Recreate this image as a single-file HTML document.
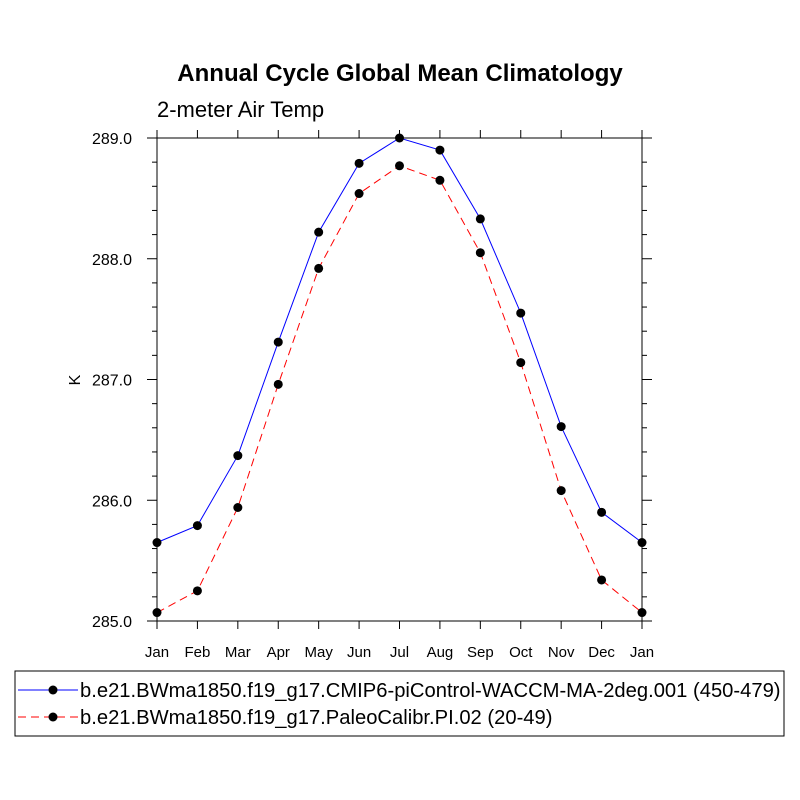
<!DOCTYPE html>
<html><head><meta charset="utf-8"><style>body{margin:0;background:#fff}svg{display:block}text{font-family:"Liberation Sans",sans-serif}</style></head>
<body>
<svg id="c" width="800" height="800" viewBox="0 0 800 800">
<text x="400" y="81" text-anchor="middle" font-size="24" font-weight="bold">Annual Cycle Global Mean Climatology</text>
<text x="157" y="117" font-size="22">2-meter Air Temp</text>
<text transform="translate(80,380) rotate(-90)" text-anchor="middle" font-size="16">K</text>
<g id="axes"></g><g id="series"></g>
<rect x="15" y="671" width="769" height="65" fill="none" stroke="#000" stroke-width="1"/>
<g>
<line x1="18" y1="690" x2="78" y2="690" stroke="#00f" stroke-width="1"/><circle cx="53" cy="690" r="4.5" fill="#000"/>
<text x="80" y="697" font-size="20.2">b.e21.BWma1850.f19_g17.CMIP6-piControl-WACCM-MA-2deg.001 (450-479)</text></g>
<g>
<line x1="18" y1="717" x2="78" y2="717" stroke="#f00" stroke-width="1" stroke-dasharray="8,5"/><circle cx="53" cy="717" r="4.5" fill="#000"/>
<text x="80" y="724" font-size="20.2">b.e21.BWma1850.f19_g17.PaleoCalibr.PI.02 (20-49)</text></g>
</svg>
<script>
const months=["Jan","Feb","Mar","Apr","May","Jun","Jul","Aug","Sep","Oct","Nov","Dec","Jan"];
const blueVals=[285.65,285.79,286.37,287.31,288.22,288.79,289.0,288.90,288.33,287.55,286.61,285.90,285.65];
const redVals=[285.07,285.25,285.94,286.96,287.92,288.54,288.77,288.65,288.05,287.14,286.08,285.34,285.07];
const yTicks=[285,286,287,288,289];
const NS="http://www.w3.org/2000/svg";
const L=157,R=642,T=138,B=621,yMin=285,yMax=289;
const xs=i=>L+(R-L)*i/(months.length-1);
const ys=v=>B-(v-yMin)/(yMax-yMin)*(B-T);
function mk(t,a,p){const e=document.createElementNS(NS,t);for(const k in a)e.setAttribute(k,a[k]);p.appendChild(e);return e;}
const ax=document.getElementById('axes');
const fr=mk('rect',{x:L,y:T,width:R-L,height:B-T,fill:'none',stroke:'#000','stroke-width':1},ax);


for(let v=yMin;v<=yMax+1e-9;v+=0.2){const y=ys(v);const maj=Math.abs(v-Math.round(v))<1e-6;const len=maj?10:5;
mk('line',{x1:L-len,y1:y,x2:L,y2:y,stroke:'#000'},ax);mk('line',{x1:R,y1:y,x2:R+len,y2:y,stroke:'#000'},ax);}
yTicks.forEach(v=>{const t=mk('text',{x:L-25,y:ys(v)+6,'text-anchor':'end','font-size':16},ax);t.textContent=v.toFixed(1);

});
months.forEach((m,i)=>{const x=xs(i);mk('line',{x1:x,y1:B,x2:x,y2:B+8,stroke:'#000'},ax);mk('line',{x1:x,y1:T-8,x2:x,y2:T,stroke:'#000'},ax);
const t=mk('text',{x:x,y:B+36,'text-anchor':'middle','font-size':15},ax);t.textContent=m;

});
const sg=document.getElementById('series');
function draw(vals,col,dash,name){const g=mk('g',{},sg);


mk('polyline',{points:vals.map((v,i)=>xs(i)+','+ys(v)).join(' '),fill:'none',stroke:col,'stroke-width':1,'stroke-dasharray':dash},g);
vals.forEach((v,i)=>{const c=mk('circle',{cx:xs(i),cy:ys(v),r:4.5,fill:'#000'},g);

});}
draw(blueVals,'#00f','none','series-blue');
draw(redVals,'#f00','8,5','series-red');
</script>
</body></html>
